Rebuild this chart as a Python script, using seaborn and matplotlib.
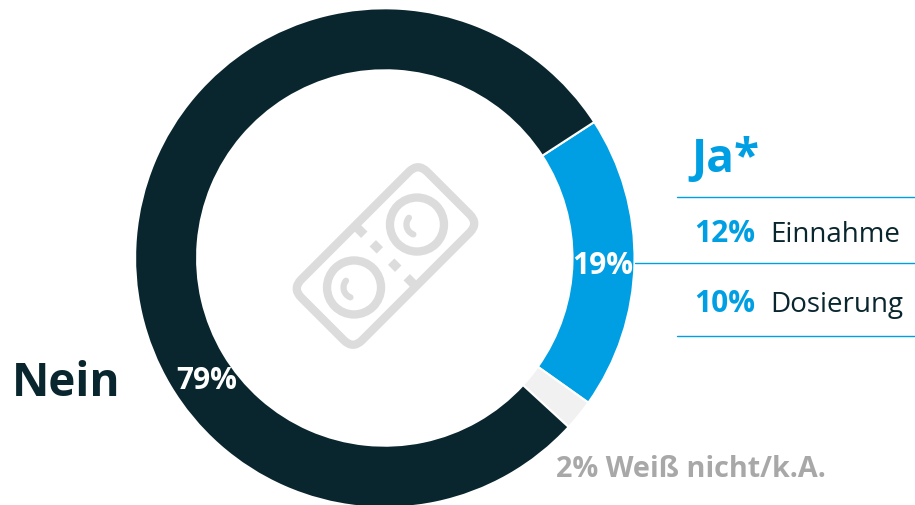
import seaborn as sns
import matplotlib.pyplot as plt
from matplotlib.patches import FancyBboxPatch, Circle, Rectangle, Arc
from matplotlib.transforms import Affine2D

shares = [19, 2, 79]
share_labels = ["19%", "", "79%"]
ring_colors = ["#009fe3", "#f1f1f1", "#09262f"]
ja_values = ["12%", "10%"]
ja_names = ["Einnahme", "Dosierung"]

DARK = "#09262f"
BLUE = "#009fe3"
ICON = "#dcdcdc"
H = 506


def py(y):
    # picture is measured from the top, axes from the bottom
    return H - y


def pill_icon(ax, cx, cy):
    rot = Affine2D().rotate_deg_around(cx, py(cy), 45) + ax.transData
    lw = 6
    body = FancyBboxPatch((cx - 89, py(cy) - 43), 178, 86, boxstyle="round,pad=0,rounding_size=13",
                          fc="none", ec=ICON, lw=lw, transform=rot)
    ax.add_patch(body)
    for dx in [-44.5, 44.5]:
        ax.add_patch(Circle((cx + dx, py(cy)), 27, fc="none", ec=ICON, lw=lw, transform=rot))
        # little highlight inside the tablet
        ax.add_patch(Arc((cx + dx, py(cy)), 21, 21, angle=0, theta1=95, theta2=205, color=ICON, lw=4.5,
                         capstyle="round", transform=rot))
    # score line, broken up
    for y0, h in [(-43, 13), (-18, 10), (8, 10), (30, 13)]:
        ax.add_patch(Rectangle((cx - 4.5, py(cy) + y0), 9, h, fc=ICON, ec="none", transform=rot))


def draw():
    sns.set_theme(style="white")
    plt.rcParams["font.family"] = ["Open Sans", "DejaVu Sans"]
    fig, ax = plt.subplots(figsize=(9.15, 5.06), dpi=100)
    fig.subplots_adjust(0, 0, 1, 1)

    wedges, _ = ax.pie(shares, colors=ring_colors, startangle=33, counterclock=False,
                       center=(384.8, py(259)), radius=249.7,
                       wedgeprops=dict(width=62, edgecolor="white", linewidth=1.5))
    ax.set_xlim(0, 915)
    ax.set_ylim(0, H)
    ax.set_aspect("equal")
    ax.axis("off")

    pill_icon(ax, 385.5, 257)

    # ring labels
    ax.text(603, py(274), share_labels[0], color="white", fontsize=21.5, fontweight="bold", ha="center", va="baseline")
    ax.text(207, py(389), share_labels[2], color="white", fontsize=21.5, fontweight="bold", ha="center", va="baseline")

    # left / right headings
    ax.text(12, py(396), "Nein", color=DARK, fontsize=33, fontweight="bold", ha="left", va="baseline")
    ax.text(691, py(172), "Ja*", color=BLUE, fontsize=33, fontweight="bold", ha="left", va="baseline")

    # rules of the "Ja" table
    ax.plot([677, 915], [py(197.5), py(197.5)], color=BLUE, lw=1)
    ax.plot([635, 915], [py(264), py(264)], color=BLUE, lw=1)
    ax.plot([677, 915], [py(336.5), py(336.5)], color=BLUE, lw=1)

    for y, val, name in zip([242, 312], ja_values, ja_names):
        ax.text(694, py(y), val, color=BLUE, fontsize=21.5, fontweight="bold", ha="left", va="baseline")
        ax.text(770, py(y), name, color=DARK, fontsize=20, ha="left", va="baseline")

    ax.text(556, py(477), "2% Weiß nicht/k.A.", color="#a8a8a8", fontsize=20.7, fontweight="bold", ha="left", va="baseline")

    fig.savefig("out.png", dpi=100)


draw()
